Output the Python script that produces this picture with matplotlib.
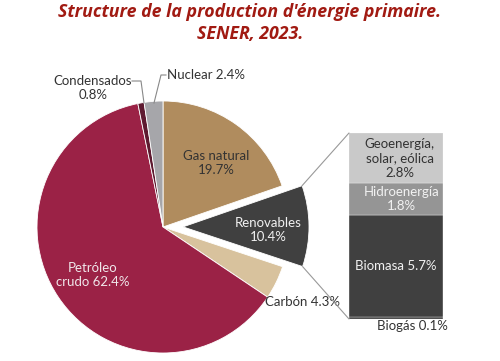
import matplotlib
matplotlib.use("Agg")
import matplotlib.pyplot as plt
import numpy as np
from matplotlib.patches import ConnectionPatch

# Data
pie_labels = ["Gas natural", "Renovables", "Carbón", "Petróleo crudo", "Condensados", "Nuclear"]
pie_values = [19.7, 10.4, 4.3, 62.4, 0.8, 2.4]
pie_colors = ["#B08C5E", "#404040", "#D8C29D", "#9B2246", "#5E1A30", "#A6A6AA"]

bar_labels = ["Biogás", "Biomasa", "Hidroenergía", "Geoenergía, solar, eólica"]
bar_values = [0.1, 5.7, 1.8, 2.8]
bar_colors = ["#2A2A2A", "#404040", "#959595", "#C9C9C9"]

W, H = 500, 361
fig = plt.figure(figsize=(5, 3.61), dpi=100)
ax = fig.add_axes([0, 0, 1, 1])

FONT = "Lato"
cx, cy, R = 163, H - 227, 126
explode = [0, 20, 0, 0, 0, 0]
wedges, _ = ax.pie(pie_values, colors=pie_colors, startangle=90, counterclock=False,
                   explode=explode, center=(cx, cy), radius=R,
                   wedgeprops=dict(edgecolor="white", linewidth=0.6))
ax.set_xlim(0, W)
ax.set_ylim(0, H)
ax.set_aspect("equal")
ax.axis("off")

def t(x, y, s, color="#333333", size=9.5, **kw):
    ax.text(x, H - y, s, color=color, fontsize=size, family=FONT,
            ha=kw.pop("ha", "center"), va=kw.pop("va", "center"),
            linespacing=1.25, **kw)

t(216, 163, f"{pie_labels[0]}\n{pie_values[0]}%")
t(268, 230, f"{pie_labels[1]}\n{pie_values[1]}%", color="#F0F0F0")
t(265, 302, f"{pie_labels[2]} {pie_values[2]}%", ha="left")
t(93, 275, "Petróleo\ncrudo " + f"{pie_values[3]}%", color="#F0E6EA")
t(93, 88, f"{pie_labels[4]}\n{pie_values[4]}%")
t(167, 75, f"{pie_labels[5]} {pie_values[5]}%", ha="left")

# leader lines
ax.plot([132, 141, 144], [H - 81, H - 81, H - 103], color="#888888", lw=0.8)
ax.plot([166, 161, 154], [H - 75, H - 75, H - 103], color="#888888", lw=0.8)

# stacked bar in inset axes
bx0, bx1, by_top, by_bot = 349, 443, 133, 319
bax = fig.add_axes([bx0 / W, (H - by_bot) / H, (bx1 - bx0) / W, (by_bot - by_top) / H])
bottoms = np.concatenate([[0], np.cumsum(bar_values)[:-1]])
bax.bar([0] * len(bar_values), bar_values, bottom=bottoms, width=1.0, color=bar_colors,
        edgecolor="#E6E6E6", linewidth=0.3)
bax.set_xlim(-0.5, 0.5)
bax.set_ylim(0, sum(bar_values))
bax.axis("off")

def bt(y, s, color, size=9.5, x=0.0):
    bax.text(x, y, s, color=color, fontsize=size, family=FONT, ha="center", va="center",
             linespacing=1.25)

bt(bottoms[3] + bar_values[3] / 2, "Geoenergía,\nsolar, eólica\n" + f"{bar_values[3]}%", "#333333", x=0.04)
bt(bottoms[2] + bar_values[2] / 2, f"{bar_labels[2]}\n{bar_values[2]}%", "#F2F2F2", x=0.06)
bt(bottoms[1] + bar_values[1] / 2, f"{bar_labels[1]} {bar_values[1]}%", "#F2F2F2")
bt(-0.4, f"{bar_labels[0]} {bar_values[0]}%", "#333333", x=0.18)

# connectors from exploded wedge corners to bar corners
w = wedges[1]
wcx, wcy = w.center
r = w.r
for ang, ybar in [(w.theta2, sum(bar_values)), (w.theta1, 0)]:
    px = wcx + r * np.cos(np.radians(ang))
    py = wcy + r * np.sin(np.radians(ang))
    con = ConnectionPatch(xyA=(px, py), coordsA=ax.transData,
                          xyB=(-0.5, ybar), coordsB=bax.transData,
                          color="#999999", lw=0.8)
    fig.add_artist(con)

fig.text(0.5, 1 - 12 / H, "Structure de la production d'énergie primaire.",
         ha="center", va="center", fontsize=12.8, fontweight="bold", fontstyle="italic",
         family="Open Sans", color="#A11A12")
fig.text(0.5, 1 - 34 / H, "SENER, 2023.",
         ha="center", va="center", fontsize=12.8, fontweight="bold", fontstyle="italic",
         family="Open Sans", color="#A11A12")

fig.savefig("out.png", dpi=100)
